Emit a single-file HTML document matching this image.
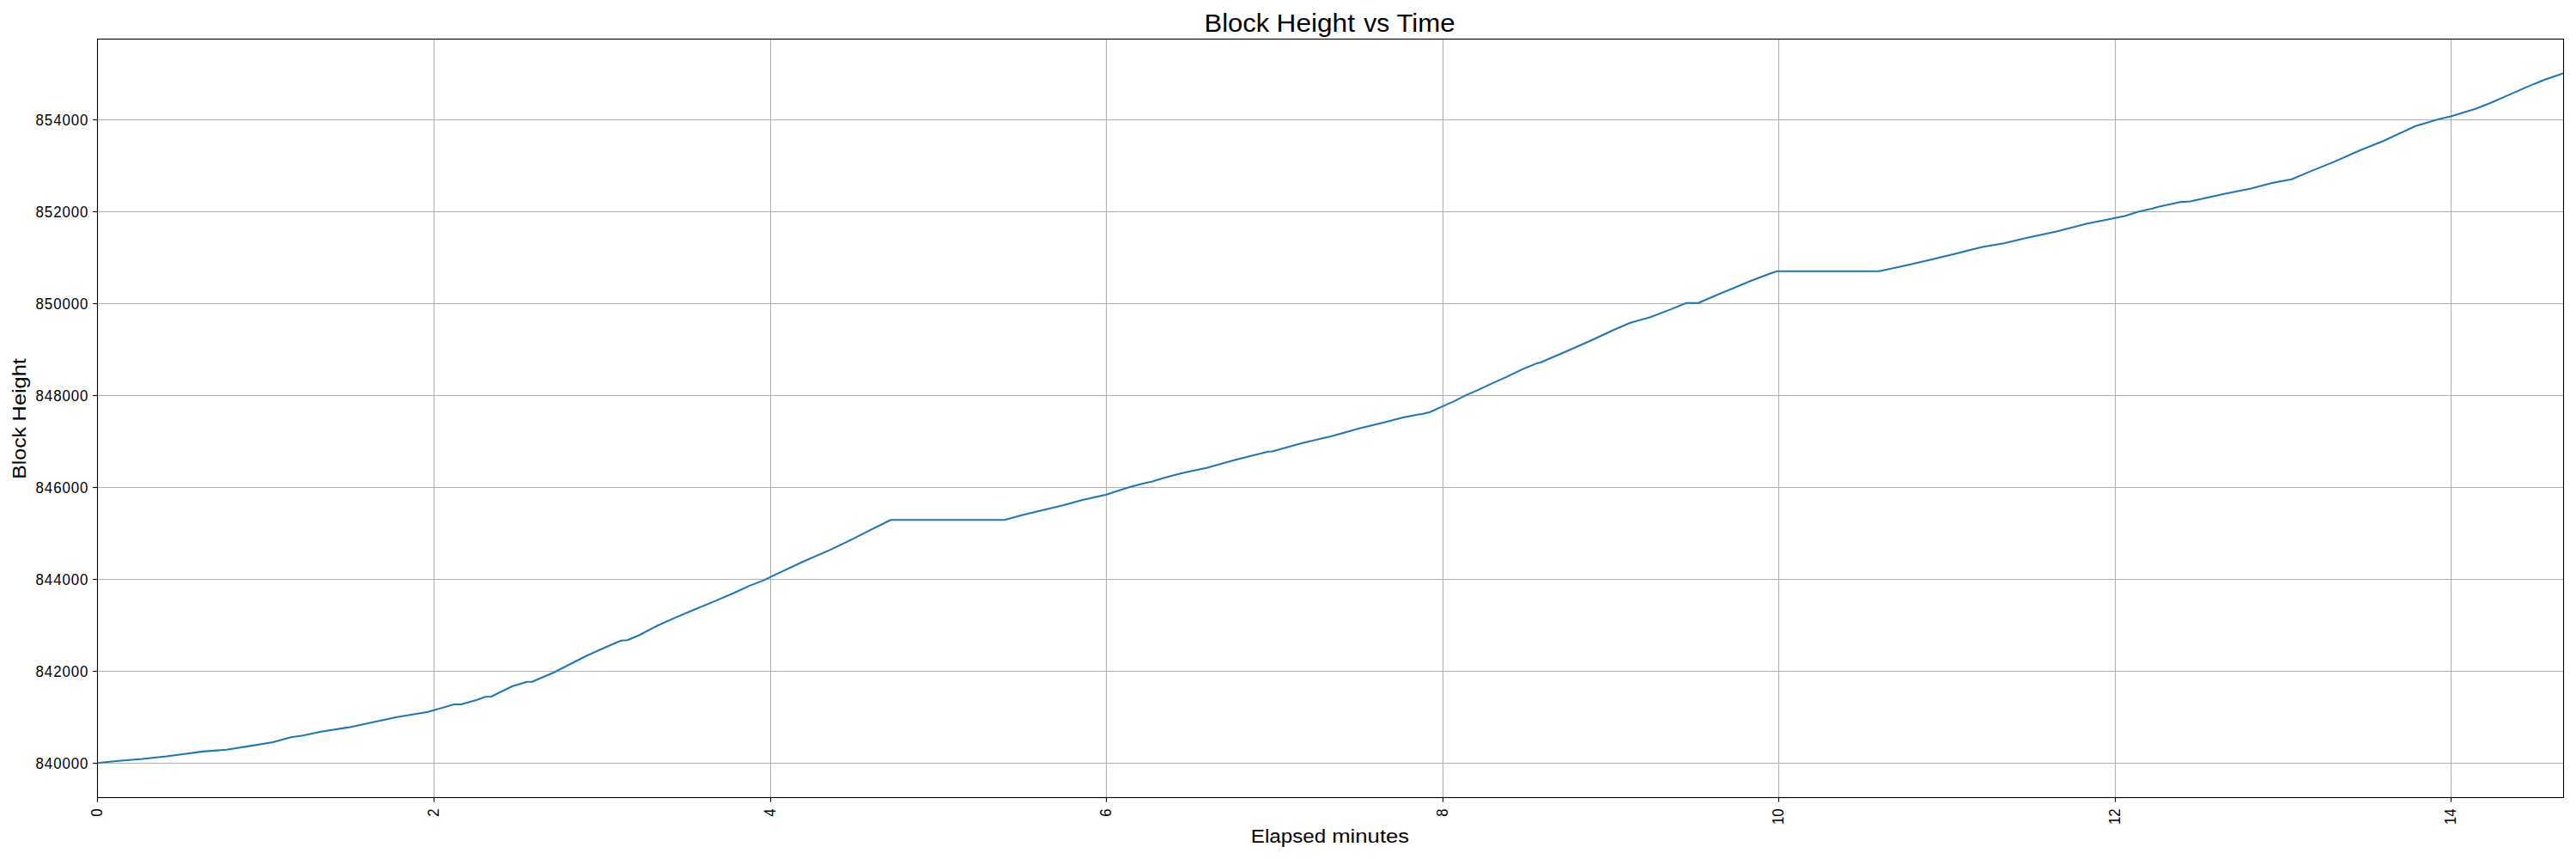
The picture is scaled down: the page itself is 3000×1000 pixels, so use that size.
<!DOCTYPE html>
<html><head><meta charset="utf-8"><style>
html,body{margin:0;padding:0;background:#fff;width:3000px;height:1000px;overflow:hidden}
svg{display:block}
text{font-family:"Liberation Sans",sans-serif;fill:#000}
</style></head><body>
<svg width="3000" height="1000" viewBox="0 0 3000 1000">
<rect width="3000" height="1000" fill="#fff"/>
<line x1="505.5" y1="45.5" x2="505.5" y2="928.5" stroke="#b0b0b0" stroke-width="1.11"/>
<line x1="897.5" y1="45.5" x2="897.5" y2="928.5" stroke="#b0b0b0" stroke-width="1.11"/>
<line x1="1288.5" y1="45.5" x2="1288.5" y2="928.5" stroke="#b0b0b0" stroke-width="1.11"/>
<line x1="1680.5" y1="45.5" x2="1680.5" y2="928.5" stroke="#b0b0b0" stroke-width="1.11"/>
<line x1="2071.5" y1="45.5" x2="2071.5" y2="928.5" stroke="#b0b0b0" stroke-width="1.11"/>
<line x1="2463.5" y1="45.5" x2="2463.5" y2="928.5" stroke="#b0b0b0" stroke-width="1.11"/>
<line x1="2854.5" y1="45.5" x2="2854.5" y2="928.5" stroke="#b0b0b0" stroke-width="1.11"/>
<line x1="113.5" y1="888.5" x2="2985.5" y2="888.5" stroke="#b0b0b0" stroke-width="1.11"/>
<line x1="113.5" y1="781.5" x2="2985.5" y2="781.5" stroke="#b0b0b0" stroke-width="1.11"/>
<line x1="113.5" y1="674.5" x2="2985.5" y2="674.5" stroke="#b0b0b0" stroke-width="1.11"/>
<line x1="113.5" y1="567.5" x2="2985.5" y2="567.5" stroke="#b0b0b0" stroke-width="1.11"/>
<line x1="113.5" y1="460.5" x2="2985.5" y2="460.5" stroke="#b0b0b0" stroke-width="1.11"/>
<line x1="113.5" y1="353.5" x2="2985.5" y2="353.5" stroke="#b0b0b0" stroke-width="1.11"/>
<line x1="113.5" y1="246.5" x2="2985.5" y2="246.5" stroke="#b0b0b0" stroke-width="1.11"/>
<line x1="113.5" y1="139.5" x2="2985.5" y2="139.5" stroke="#b0b0b0" stroke-width="1.11"/>
<defs><clipPath id="ax"><rect x="113.5" y="45.5" width="2872.0" height="883.0"/></clipPath></defs>
<path d="M113.5,888.2 L138.0,885.8 L165.9,883.5 L193.9,880.5 L214.8,877.7 L235.8,874.9 L263.7,872.8 L290.0,868.6 L318.0,864.0 L338.9,858.3 L352.9,856.3 L373.9,851.8 L405.3,846.9 L415.8,844.8 L436.8,840.3 L461.2,835.0 L498.5,828.7 L528.8,820.0 L536.9,820.0 L555.6,814.7 L564.9,811.2 L571.9,811.0 L596.3,799.0 L613.8,793.8 L619.6,793.8 L645.2,782.7 L681.4,764.2 L702.4,754.7 L723.3,745.8 L730.7,745.3 L744.3,739.5 L765.3,728.5 L786.2,719.1 L807.2,710.2 L830.0,700.9 L854.9,690.3 L872.4,682.1 L889.9,675.4 L897.4,671.6 L934.8,654.0 L966.2,640.4 L987.2,630.4 L1010.0,618.9 L1037.3,605.2 L1170.0,605.2 L1190.0,599.7 L1238.9,588.1 L1259.9,582.2 L1287.8,575.9 L1300.0,572.1 L1314.0,567.5 L1327.9,563.7 L1341.9,560.5 L1355.9,556.3 L1369.8,552.6 L1380.0,550.0 L1404.9,544.7 L1439.9,534.9 L1476.9,525.7 L1481.8,525.5 L1516.8,515.7 L1550.0,508.0 L1584.9,498.2 L1612.9,491.6 L1633.9,486.0 L1653.4,482.3 L1656.2,482.1 L1665.3,479.7 L1679.3,473.4 L1693.3,467.1 L1707.2,460.1 L1720.0,454.6 L1737.5,446.4 L1754.9,438.6 L1772.4,430.1 L1789.9,422.9 L1793.4,422.3 L1823.1,409.5 L1851.0,397.3 L1879.0,384.3 L1898.6,375.8 L1921.9,369.2 L1945.2,360.4 L1963.8,352.8 L1977.8,352.8 L2001.0,342.7 L2038.3,327.3 L2060.0,319.0 L2069.6,315.7 L2188.4,315.7 L2221.9,308.4 L2249.9,302.1 L2277.8,295.2 L2308.6,287.5 L2333.7,283.3 L2360.0,277.0 L2394.9,269.4 L2429.9,260.6 L2463.4,253.7 L2475.3,251.2 L2489.3,246.7 L2506.8,242.8 L2513.7,240.7 L2540.0,235.1 L2550.6,234.5 L2588.9,225.9 L2621.5,219.4 L2645.9,212.9 L2668.8,208.8 L2686.7,201.1 L2707.1,192.9 L2720.0,187.6 L2747.9,175.2 L2775.9,164.0 L2813.1,146.8 L2841.0,138.4 L2854.1,135.6 L2882.9,126.8 L2900.0,120.0 L2921.0,110.9 L2941.9,101.6 L2962.9,93.0 L2985.5,85.2" fill="none" stroke="#1f77b4" stroke-width="2.08" stroke-linejoin="round" stroke-linecap="square" clip-path="url(#ax)"/>
<rect x="113.5" y="45.5" width="2872.0" height="883.0" fill="none" stroke="#000" stroke-width="1.11"/>
<line x1="113.5" y1="928.5" x2="113.5" y2="933.75" stroke="#000" stroke-width="1.11"/>
<line x1="505.5" y1="928.5" x2="505.5" y2="933.75" stroke="#000" stroke-width="1.11"/>
<line x1="897.5" y1="928.5" x2="897.5" y2="933.75" stroke="#000" stroke-width="1.11"/>
<line x1="1288.5" y1="928.5" x2="1288.5" y2="933.75" stroke="#000" stroke-width="1.11"/>
<line x1="1680.5" y1="928.5" x2="1680.5" y2="933.75" stroke="#000" stroke-width="1.11"/>
<line x1="2071.5" y1="928.5" x2="2071.5" y2="933.75" stroke="#000" stroke-width="1.11"/>
<line x1="2463.5" y1="928.5" x2="2463.5" y2="933.75" stroke="#000" stroke-width="1.11"/>
<line x1="2854.5" y1="928.5" x2="2854.5" y2="933.75" stroke="#000" stroke-width="1.11"/>
<line x1="113.5" y1="888.5" x2="108.2" y2="888.5" stroke="#000" stroke-width="1.11"/>
<line x1="113.5" y1="781.5" x2="108.2" y2="781.5" stroke="#000" stroke-width="1.11"/>
<line x1="113.5" y1="674.5" x2="108.2" y2="674.5" stroke="#000" stroke-width="1.11"/>
<line x1="113.5" y1="567.5" x2="108.2" y2="567.5" stroke="#000" stroke-width="1.11"/>
<line x1="113.5" y1="460.5" x2="108.2" y2="460.5" stroke="#000" stroke-width="1.11"/>
<line x1="113.5" y1="353.5" x2="108.2" y2="353.5" stroke="#000" stroke-width="1.11"/>
<line x1="113.5" y1="246.5" x2="108.2" y2="246.5" stroke="#000" stroke-width="1.11"/>
<line x1="113.5" y1="139.5" x2="108.2" y2="139.5" stroke="#000" stroke-width="1.11"/>
<text transform="translate(102.4,894.7) scale(0.94,1)" text-anchor="end" font-size="18" textLength="64.7" lengthAdjust="spacing">840000</text>
<text transform="translate(102.4,787.7) scale(0.94,1)" text-anchor="end" font-size="18" textLength="64.7" lengthAdjust="spacing">842000</text>
<text transform="translate(102.4,680.7) scale(0.94,1)" text-anchor="end" font-size="18" textLength="64.7" lengthAdjust="spacing">844000</text>
<text transform="translate(102.4,573.7) scale(0.94,1)" text-anchor="end" font-size="18" textLength="64.7" lengthAdjust="spacing">846000</text>
<text transform="translate(102.4,466.7) scale(0.94,1)" text-anchor="end" font-size="18" textLength="64.7" lengthAdjust="spacing">848000</text>
<text transform="translate(102.4,359.7) scale(0.94,1)" text-anchor="end" font-size="18" textLength="64.7" lengthAdjust="spacing">850000</text>
<text transform="translate(102.4,252.7) scale(0.94,1)" text-anchor="end" font-size="18" textLength="64.7" lengthAdjust="spacing">852000</text>
<text transform="translate(102.4,145.7) scale(0.94,1)" text-anchor="end" font-size="18" textLength="64.7" lengthAdjust="spacing">854000</text>
<text transform="translate(119.0,941.5) rotate(-90) scale(0.93,1)" text-anchor="end" font-size="18">0</text>
<text transform="translate(511.0,941.5) rotate(-90) scale(0.93,1)" text-anchor="end" font-size="18">2</text>
<text transform="translate(903.0,941.5) rotate(-90) scale(0.93,1)" text-anchor="end" font-size="18">4</text>
<text transform="translate(1294.0,941.5) rotate(-90) scale(0.93,1)" text-anchor="end" font-size="18">6</text>
<text transform="translate(1686.0,941.5) rotate(-90) scale(0.93,1)" text-anchor="end" font-size="18">8</text>
<text transform="translate(2077.0,941.5) rotate(-90) scale(0.93,1)" text-anchor="end" font-size="18">10</text>
<text transform="translate(2469.0,941.5) rotate(-90) scale(0.93,1)" text-anchor="end" font-size="18">12</text>
<text transform="translate(2860.0,941.5) rotate(-90) scale(0.93,1)" text-anchor="end" font-size="18">14</text>
<text x="1402.60" y="36.9" font-size="29.3" textLength="75.60" lengthAdjust="spacingAndGlyphs">Block</text>
<text x="1486.60" y="36.9" font-size="29.3" textLength="91.40" lengthAdjust="spacingAndGlyphs">Height</text>
<text x="1588.20" y="36.9" font-size="29.3" textLength="30.00" lengthAdjust="spacingAndGlyphs">vs</text>
<text x="1626.40" y="36.9" font-size="29.3" textLength="68.20" lengthAdjust="spacingAndGlyphs">Time</text>
<text x="1456.76" y="980.8" font-size="22" textLength="87.44" lengthAdjust="spacingAndGlyphs">Elapsed</text>
<text x="1551.20" y="980.8" font-size="22" textLength="90.00" lengthAdjust="spacingAndGlyphs">minutes</text>
<text transform="translate(29.85,557.80) rotate(-90)" font-size="22" textLength="60.80" lengthAdjust="spacingAndGlyphs">Block</text>
<text transform="translate(29.85,490.40) rotate(-90)" font-size="22" textLength="73.20" lengthAdjust="spacingAndGlyphs">Height</text>
</svg>
</body></html>
